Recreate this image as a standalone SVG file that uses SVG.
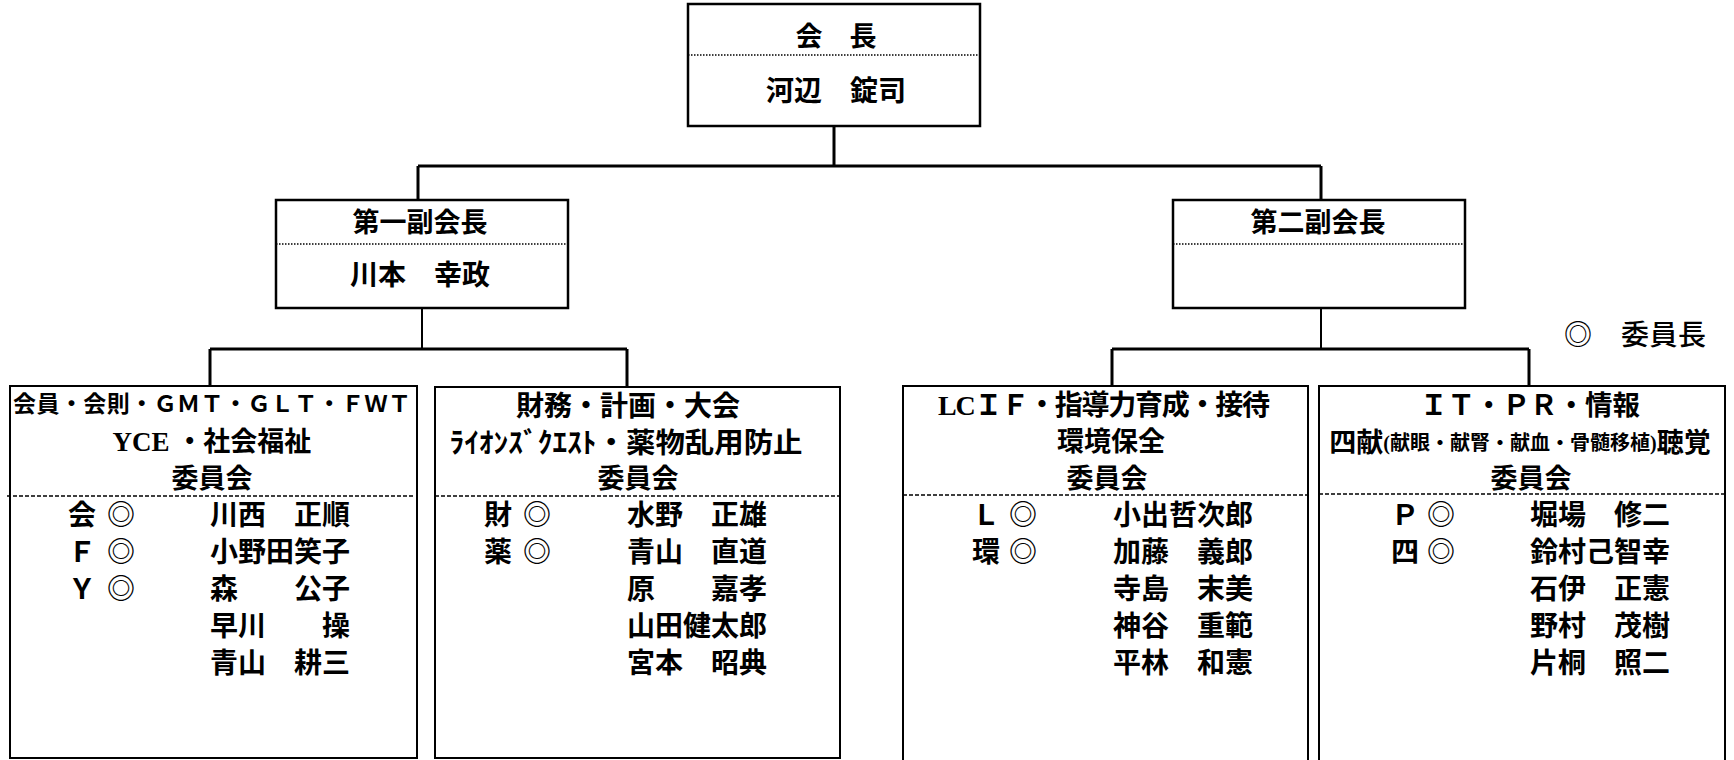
<svg xmlns="http://www.w3.org/2000/svg" width="1734" height="760" viewBox="0 0 1734 760">
<style>
.box{fill:#fff;stroke:#000;stroke-width:2.5}
.cbox{fill:#fff;stroke:#000;stroke-width:2}
.dot{stroke:#000;stroke-width:1.5;stroke-dasharray:1.5 1.5}
.dash{stroke:#000;stroke-width:1.5;stroke-dasharray:4 2}
.ln{stroke:#000;stroke-width:3;fill:none}
.ln2{stroke:#000;stroke-width:2;fill:none}
text{font-family:"Liberation Serif","Noto Sans CJK JP",serif;font-weight:700;fill:#000;dominant-baseline:central}
.c{text-anchor:middle}
.t{font-size:27px}
.n{font-size:28px}
.leg{font-family:"Noto Sans CJK JP",sans-serif;font-weight:500;font-size:28px}
</style>
<g id="connectors">
<path class="ln" d="M834 126V166M418 166H1321M418 166V200M1321 166V200"/>
<path class="ln2" d="M422 308V349M1321 308V349"/>
<path class="ln" d="M210 349H627M210 349V387M627 349V387M1112 349H1529M1112 349V387M1529 349V387"/>
</g>
<g id="president">
<rect class="box" x="688" y="4" width="292" height="122"/>
<line class="dot" x1="688" y1="55" x2="980" y2="55"/>
<text class="c t" x="836" y="37">会　長</text>
<text class="c n" x="836" y="91">河辺　錠司</text>
</g>
<g id="vp1">
<rect class="box" x="276" y="200" width="292" height="108"/>
<line class="dot" x1="276" y1="244" x2="570" y2="244"/>
<text class="c t" x="420" y="223">第一副会長</text>
<text class="c n" x="420" y="275">川本　幸政</text>
</g>
<g id="vp2">
<rect class="box" x="1173" y="200" width="292" height="108"/>
<line class="dot" x1="1173" y1="244" x2="1465" y2="244"/>
<text class="c t" x="1318" y="223">第二副会長</text>
</g>
<g id="legend">
<text class="leg" x="1564" y="333" textLength="142" lengthAdjust="spacing">◎　委員長</text>
</g>
<g id="committee1">
<rect class="cbox" x="10" y="386" width="407" height="372"/>
<line class="dash" x1="7" y1="496" x2="413" y2="496"/>
<text class="c" x="212" y="404" font-size="23" textLength="398" lengthAdjust="spacing">会員・会則・ＧＭＴ・ＧＬＴ・ＦＷＴ</text>
<text class="c t" x="212" y="442">YCE ・社会福祉</text>
<text class="c t" x="212" y="479">委員会</text>
<g class="n">
<text class="c" x="82" y="515">会</text><text class="c" x="121" y="515">◎</text>
<text class="c" x="82" y="552">Ｆ</text><text class="c" x="121" y="552">◎</text>
<text class="c" x="82" y="589">Ｙ</text><text class="c" x="121" y="589">◎</text>
<text x="210" y="515">川西　正順</text>
<text x="210" y="552">小野田笑子</text>
<text x="210" y="589">森　　公子</text>
<text x="210" y="626">早川　　操</text>
<text x="210" y="663">青山　耕三</text>
</g>
</g>
<g id="committee2">
<rect class="cbox" x="435" y="387" width="405" height="371"/>
<line class="dash" x1="435" y1="496" x2="840" y2="496"/>
<text class="c" x="628" y="406" font-size="28">財務・計画・大会</text>
<text class="c" x="626" y="443" font-size="28" textLength="353" lengthAdjust="spacingAndGlyphs">ﾗｲｵﾝｽﾞｸｴｽﾄ・薬物乱用防止</text>
<text class="c t" x="638" y="479">委員会</text>
<g class="n">
<text class="c" x="498" y="515">財</text><text class="c" x="537" y="515">◎</text>
<text class="c" x="498" y="552">薬</text><text class="c" x="537" y="552">◎</text>
<text x="627" y="515">水野　正雄</text>
<text x="627" y="552">青山　直道</text>
<text x="627" y="589">原　　嘉孝</text>
<text x="627" y="626">山田健太郎</text>
<text x="627" y="663">宮本　昭典</text>
</g>
</g>
<g id="committee3">
<rect class="cbox" x="903" y="386" width="405" height="378"/>
<line class="dash" x1="903" y1="495" x2="1308" y2="495"/>
<text class="c" x="1104" y="405" font-size="28" textLength="332" lengthAdjust="spacing">LCＩＦ・指導力育成・接待</text>
<text class="c t" x="1111" y="442">環境保全</text>
<text class="c t" x="1107" y="479">委員会</text>
<g class="n">
<text class="c" x="986" y="515">Ｌ</text><text class="c" x="1023" y="515">◎</text>
<text class="c" x="986" y="552">環</text><text class="c" x="1023" y="552">◎</text>
<text x="1113" y="515">小出哲次郎</text>
<text x="1113" y="552">加藤　義郎</text>
<text x="1113" y="589">寺島　末美</text>
<text x="1113" y="626">神谷　重範</text>
<text x="1113" y="663">平林　和憲</text>
</g>
</g>
<g id="committee4">
<rect class="cbox" x="1319" y="386" width="406" height="378"/>
<line class="dash" x1="1319" y1="494" x2="1725" y2="494"/>
<text class="c" x="1530" y="405" font-size="27.5">ＩＴ・ＰＲ・情報</text>
<text class="c" x="1520" y="443" font-size="27">四献<tspan font-size="20">(献眼・献腎・献血・骨髄移植)</tspan>聴覚</text>
<text class="c t" x="1531" y="479">委員会</text>
<g class="n">
<text class="c" x="1405" y="515">Ｐ</text><text class="c" x="1441" y="515">◎</text>
<text class="c" x="1405" y="552">四</text><text class="c" x="1441" y="552">◎</text>
<text x="1530" y="515">堀場　修二</text>
<text x="1530" y="552">鈴村己智幸</text>
<text x="1530" y="589">石伊　正憲</text>
<text x="1530" y="626">野村　茂樹</text>
<text x="1530" y="663">片桐　照二</text>
</g>
</g>
</svg>
